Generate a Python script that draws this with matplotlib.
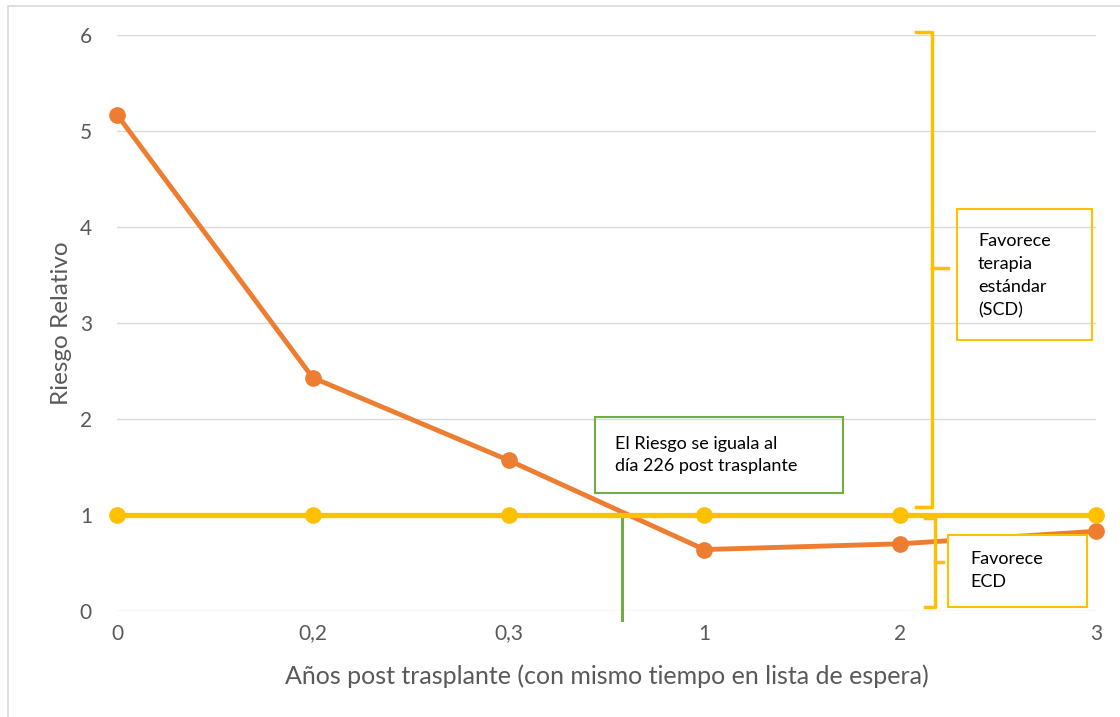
# Riesgo relativo ECD vs SCD: reproduced line chart
import numpy as np
import matplotlib
matplotlib.use("Agg")
import matplotlib.pyplot as plt
from matplotlib.patches import Rectangle
from matplotlib.lines import Line2D

plt.rcParams['font.family'] = ['Lato', 'DejaVu Sans']

# data
categorias = ['0', '0,2', '0,3', '1', '2', '3']
riesgo_ecd = [5.17, 2.43, 1.57, 0.64, 0.70, 0.83]
riesgo_scd = [1, 1, 1, 1, 1, 1]
y_ticks = [0, 1, 2, 3, 4, 5, 6]

naranja = '#ED7D31'
amarillo = '#FFC000'
verde = '#70AD47'
gris = '#595959'

fig = plt.figure(figsize=(11.2, 7.17), dpi=100)
ax = fig.add_axes([117/1120, 1 - 611/717, (1096 - 117)/1120, (611 - 35)/717])

x = np.arange(len(categorias))
ax.plot(x, riesgo_ecd, color=naranja, lw=3.5, marker='o', ms=11, clip_on=False, zorder=3)
ax.plot(x, riesgo_scd, color=amarillo, lw=3.8, marker='o', ms=11, clip_on=False, zorder=4)

ax.set_xlim(0, len(categorias) - 1)
ax.set_ylim(0, 6)
ax.set_xticks(x)
ax.set_xticklabels(categorias)
ax.set_yticks(y_ticks)
ax.tick_params(axis='both', length=0, labelsize=15, colors=gris)
ax.tick_params(axis='x', pad=9)
ax.tick_params(axis='y', pad=18)
ax.grid(axis='y', color='#d9d9d9', lw=1)
ax.set_axisbelow(True)
for s in ax.spines.values():
    s.set_visible(False)

ax.set_ylabel('Riesgo Relativo', fontsize=17.5, color=gris, va='center')
ax.yaxis.set_label_coords((62 - 117)/979, 0.5)
ax.set_xlabel('Años post trasplante (con mismo tiempo en lista de espera)', fontsize=18,
              color=gris, va='center')
ax.xaxis.set_label_coords(0.5, (611 - 676)/576)

# green marker where the risks meet
x_cruce = 2.58
ax.add_line(Line2D([x_cruce, x_cruce], [1, -0.095], color=verde, lw=2.2, clip_on=False, zorder=2))
ax.add_patch(Rectangle((2.441, 1.229), 3.708 - 2.441, 2.021 - 1.229, fill=False,
                       edgecolor=verde, lw=1.5, zorder=5))
ax.text(2.543, 1.625, 'El Riesgo se iguala al\ndía 226 post trasplante', fontsize=13,
        va='center', ha='left', color='black', linespacing=1.5, zorder=6)

# upper brace (favorece SCD)
ax.add_line(Line2D([4.081, 4.162, 4.162, 4.081], [6.03, 6.03, 1.083, 1.083],
                   color=amarillo, lw=2.5, clip_on=False, zorder=5))
ax.add_line(Line2D([4.162, 4.244], [3.57, 3.57], color=amarillo, lw=2.5, clip_on=False, zorder=5))
ax.add_patch(Rectangle((4.290, 2.823), 4.980 - 4.290, 4.1875 - 2.823, fill=False,
                       edgecolor=amarillo, lw=1.5, clip_on=False, zorder=5))
ax.text(4.397, 3.49, 'Favorece\nterapia\nestándar\n(SCD)', fontsize=13,
        va='center', ha='left', color='black', linespacing=1.55, zorder=6)

# lower brace (favorece ECD)
ax.add_line(Line2D([4.127, 4.178, 4.178, 4.127], [0.969, 0.969, 0.042, 0.042],
                   color=amarillo, lw=2.5, clip_on=False, zorder=5))
ax.add_line(Line2D([4.178, 4.22], [0.51, 0.51], color=amarillo, lw=2.5, clip_on=False, zorder=5))
ax.add_patch(Rectangle((4.244, 0.042), 4.954 - 4.244, 0.792 - 0.042, facecolor='white',
                       edgecolor=amarillo, lw=1.5, clip_on=False, zorder=5))
ax.text(4.357, 0.42, 'Favorece\nECD', fontsize=13,
        va='center', ha='left', color='black', linespacing=1.55, zorder=6)

# outer chart border
fig.patches.append(Rectangle((8/1120, -0.05), 1.2, 1.05 - 6/717, transform=fig.transFigure,
                             fill=False, edgecolor='#d9d9d9', lw=1.2))

fig.savefig('out.png', dpi=100)
